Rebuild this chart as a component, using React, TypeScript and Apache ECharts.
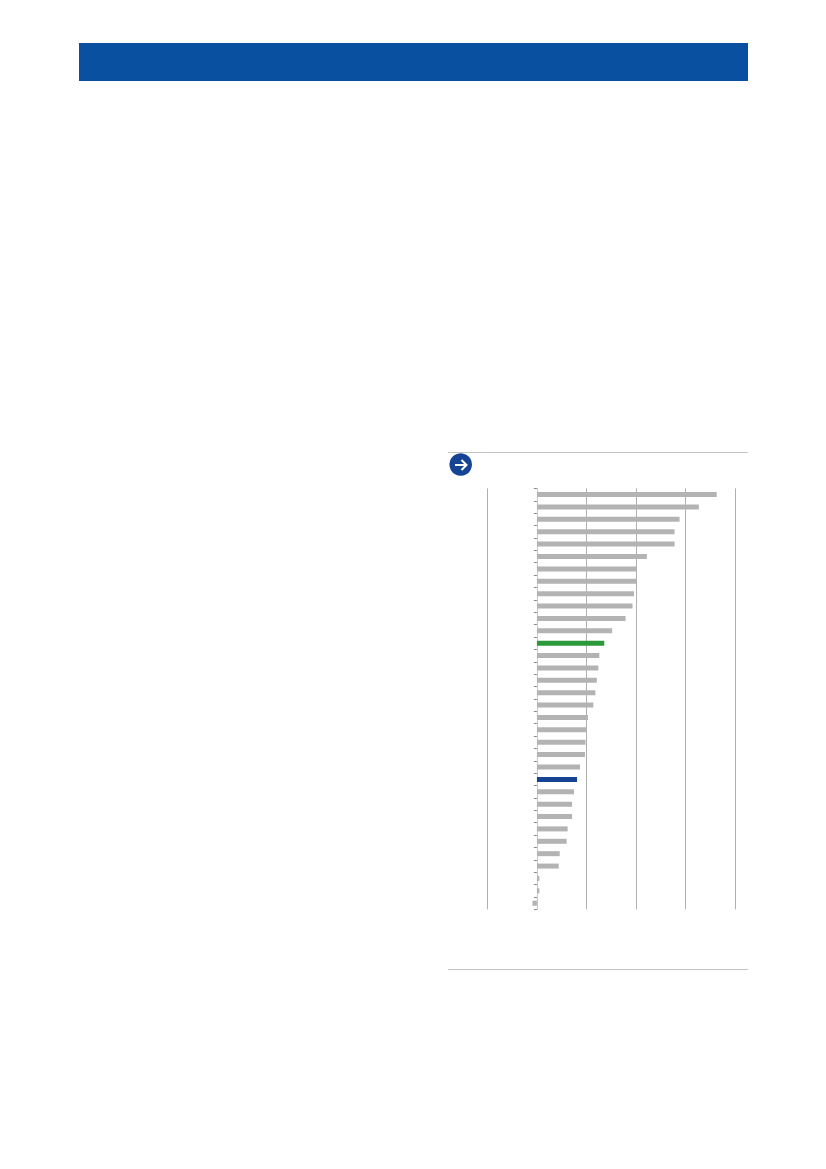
import React, { useEffect, useRef } from "react";
import * as echarts from "echarts";

const values = [36.3, 32.7, 28.8, 27.8, 27.8, 22.2, 20.2, 20.2, 19.6, 19.3, 17.9, 15.2, 13.6, 12.6, 12.4, 12.1, 11.8, 11.4, 10.3, 10.1, 9.8, 9.7, 8.7, 8.1, 7.5, 7.1, 7.1, 6.2, 6.0, 4.6, 4.4, 0.5, 0.5, -0.9];
const categories = values.map((_, i) => String(i + 1));
const highlights: Record<number, string> = { 12: "#2A9A3B", 23: "#154494" };
const GREY = "#B3B3B3";

export default function App() {
  const ref = useRef<HTMLDivElement>(null);
  useEffect(() => {
    document.body.style.margin = "0";
    const chart = echarts.init(ref.current!, undefined, { renderer: "svg" });
    chart.setOption({
      animation: false,
      backgroundColor: "#ffffff",
      grid: { left: 487.4, top: 488.4, width: 247.6, height: 421, containLabel: false },
      xAxis: {
        type: "value", min: -10, max: 40, interval: 10,
        axisLabel: { show: false }, axisLine: { show: false }, axisTick: { show: false },
        splitLine: { show: true, lineStyle: { color: "#B0B0B0", width: 1 } },
      },
      yAxis: {
        type: "category", inverse: true, data: categories,
        axisLabel: { show: false, interval: 0 },
        axisLine: { show: true, onZero: true, lineStyle: { color: "#C8C8C8", width: 1 } },
        axisTick: { show: true, interval: 0, length: 3, lineStyle: { color: "#8A8A8A", width: 1 } },
        splitLine: { show: false },
      },
      series: [{
        type: "bar", barWidth: 5,
        data: values.map((v, i) => ({ value: v, itemStyle: { color: highlights[i] ?? GREY } })),
      }],
      graphic: [
        { type: "rect", shape: { x: 79, y: 43, width: 669, height: 38 }, style: { fill: "#0A50A1" } },
        { type: "line", shape: { x1: 448, y1: 452.5, x2: 748, y2: 452.5 }, style: { stroke: "#C4C4C4", lineWidth: 1 } },
        { type: "line", shape: { x1: 448, y1: 969.5, x2: 748, y2: 969.5 }, style: { stroke: "#C4C4C4", lineWidth: 1 } },
        { type: "circle", shape: { cx: 460.7, cy: 464.5, r: 11.3 }, style: { fill: "#154494" } },
        { type: "line", shape: { x1: 455, y1: 465, x2: 466, y2: 465 }, style: { stroke: "#ffffff", lineWidth: 2 } },
        { type: "polyline", shape: { points: [[461.5, 460], [466.5, 465], [461.5, 470]] }, style: { stroke: "#ffffff", lineWidth: 2, fill: "none" } },
      ],
    });
    return () => chart.dispose();
  }, []);
  return <div ref={ref} style={{ width: 826, height: 1169 }} />;
}
